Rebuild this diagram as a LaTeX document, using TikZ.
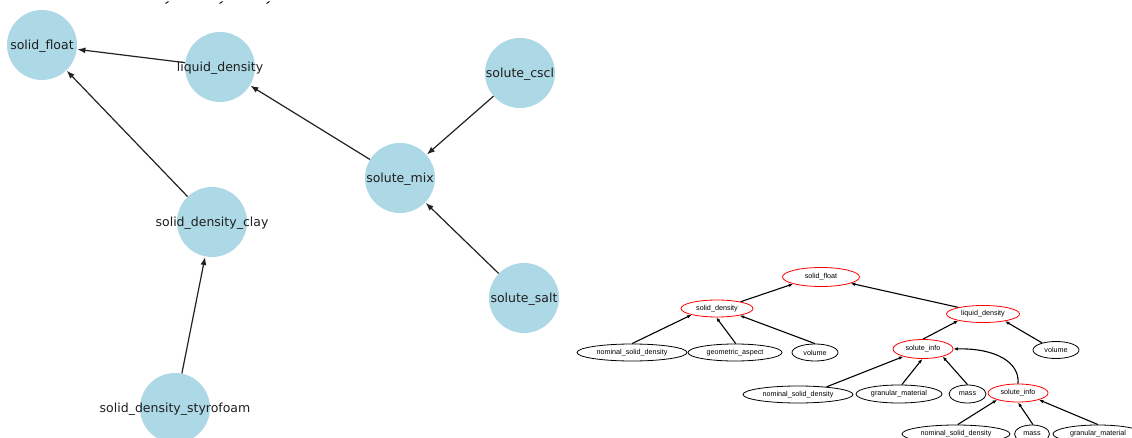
\documentclass[tikz,border=0pt]{standalone}
\usepackage{fontspec}
\setmainfont{DejaVu Sans}
\newfontfamily\smallsans{Liberation Sans}
\usetikzlibrary{shapes.geometric,arrows.meta}
\definecolor{bubble}{HTML}{ADD8E6}
\definecolor{edgegray}{HTML}{222222}
\tikzset{
  bub/.style={circle,fill=bubble,draw=none,minimum size=70pt,inner sep=0pt},
  lbl/.style={font=\fontsize{12.5}{14}\selectfont,text=black!88,inner sep=0pt},
  netedge/.style={draw=edgegray,line width=1.2pt,-{Latex[length=8pt,width=6pt]},shorten >=0.5pt},
  ell/.style={ellipse,draw=black,line width=0.8pt,inner sep=0pt,font=\smallsans\fontsize{7.2}{8}\selectfont},
  goal/.style={ell,draw=red},
  tree/.style={draw=black,line width=1.1pt,-{Latex[length=4.5pt,width=3.5pt]}},
}
\begin{document}
\begin{tikzpicture}[x=1pt,y=-1pt]
\useasboundingbox (0,0) rectangle (1132,438);

% clipped heading fragments along the top edge
\foreach \xx in {167,221,268}
  \draw[line width=1pt,edgegray] (\xx-1.5,3.5) -- (\xx+1.5,1.5);

% ---------- dependency network ----------
\node[bub] (sf)   at (42,45)   {};
\node[bub] (ld)   at (220,67)  {};
\node[bub] (cscl) at (520,73)  {};
\node[bub] (mix)  at (400,178) {};
\node[bub] (clay) at (212,222) {};
\node[bub] (salt) at (524,298) {};
\node[bub] (sty)  at (175,408) {};

\node[lbl] at ([yshift=-1pt]sf)   {solid\_float};
\node[lbl] at ([yshift=-1pt]ld)   {liquid\_density};
\node[lbl] at ([yshift=-1pt]cscl) {solute\_cscl};
\node[lbl] at ([yshift=-1pt]mix)  {solute\_mix};
\node[lbl] at ([yshift=-1pt]clay) {solid\_density\_clay};
\node[lbl] at ([yshift=-1pt]salt) {solute\_salt};
\node[lbl] at ([yshift=-1pt]sty)  {solid\_density\_styrofoam};

\draw[netedge] (ld)   -- (sf);
\draw[netedge] (clay) -- (sf);
\draw[netedge] (mix)  -- (ld);
\draw[netedge] (cscl) -- (mix);
\draw[netedge] (salt) -- (mix);
\draw[netedge] (sty)  -- (clay);

% ---------- requirement tree ----------
\node[goal,minimum width=77pt,minimum height=19pt] (tsf) at (821,277) {solid\_float};
\node[goal,minimum width=72pt,minimum height=17pt] (tsd) at (717,308.5) {solid\_density};
\node[goal,minimum width=73pt,minimum height=17pt] (tld) at (983,314) {liquid\_density};

\node[ell,minimum width=110pt,minimum height=17pt] (nsd1) at (632,352.5) {nominal\_solid\_density};
\node[ell,minimum width=94pt,minimum height=17pt]  (geo)  at (735,352.5) {geometric\_aspect};
\node[ell,minimum width=46pt,minimum height=17pt]  (vol1) at (815,352.5) {volume};

\node[goal,minimum width=60pt,minimum height=19pt] (si1)  at (923,349) {solute\_info};
\node[ell,minimum width=46pt,minimum height=17pt]  (vol2) at (1056,350) {volume};

\node[ell,minimum width=110pt,minimum height=17pt] (nsd2) at (798,394.5) {nominal\_solid\_density};
\node[ell,minimum width=86pt,minimum height=18pt]  (gm1)  at (899,394) {granular\_material};
\node[ell,minimum width=37pt,minimum height=18pt]  (ms1)  at (967.5,394) {mass};
\node[goal,minimum width=60pt,minimum height=18pt] (si2)  at (1018,393) {solute\_info};

\node[ell,minimum width=108pt,minimum height=18pt] (nsd3) at (956,434) {nominal\_solid\_density};
\node[ell,minimum width=35pt,minimum height=18pt]  (ms2)  at (1032,434) {mass};
\node[ell,minimum width=90pt,minimum height=18pt]  (gm2)  at (1098,434) {granular\_material};

\draw[tree] (tsd.16)  -- (tsf.194);
\draw[tree] (tld.165) -- (tsf.348);
\draw[tree] (nsd1.90) -- (tsd.194);
\draw[tree] (geo.85)  -- (tsd.265);
\draw[tree] (vol1.90) -- (tsd.343);
\draw[tree] (si1.90)  -- (tld.195);
\draw[tree] (vol2.153) -- (tld.342);
\draw[tree] (nsd2.15) -- (si1.201);
\draw[tree] (gm1.73)  -- (si1.266);
\draw[tree] (ms1.90)  -- (si1.339);
\draw[tree] (si2.90) .. controls (1020,362) and (995,348) .. (si1.0);
\draw[tree] (nsd3.80) -- (si2.198);
\draw[tree] (ms2.84)  -- (si2.270);
\draw[tree] (gm2.90)  -- (si2.342);
\end{tikzpicture}
\end{document}
